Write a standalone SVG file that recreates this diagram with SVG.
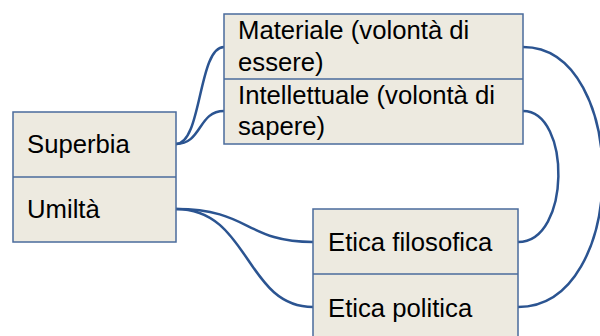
<svg xmlns="http://www.w3.org/2000/svg" width="600" height="336" viewBox="0 0 600 336">
<style>
.box{fill:#EDEAE0;stroke:#4A6B9C;stroke-width:1.5}
.div{stroke:#4A6B9C;stroke-width:1.5}
.t{font-family:"Liberation Sans",Arial,sans-serif;font-size:25.7px;fill:#000}
.c{fill:none;stroke:#2B5491;stroke-width:2.5}
</style>
<rect width="600" height="336" fill="#fff"/>
<g id="connectors">
<path class="c" d="M176,144 C202,144 198,47 224,47"/>
<path class="c" d="M176,144 C202,144 198,111 224,111"/>
<path class="c" d="M176,209 C250,209 245,242 313,242"/>
<path class="c" d="M176,209 C250,209 245,307 313,307"/>
<path class="c" d="M523,47 C630,47 630,307 518,307"/>
<path class="c" d="M523,111 C571,111 571,242 518,242"/>
</g>
<g id="left">
<rect class="box" x="13" y="112" width="163" height="130"/>
<line class="div" x1="13" y1="177" x2="176" y2="177"/>
<text class="t" x="27" y="153">Superbia</text>
<text class="t" x="27" y="218">Umiltà</text>
</g>
<g id="top">
<rect class="box" x="224" y="14" width="299" height="130"/>
<line class="div" x1="224" y1="79" x2="523" y2="79"/>
<text class="t" x="238" y="39">Materiale (volontà di</text>
<text class="t" x="238" y="71">essere)</text>
<text class="t" x="238" y="104">Intellettuale (volontà di</text>
<text class="t" x="238" y="135">sapere)</text>
</g>
<g id="bottom">
<rect class="box" x="313" y="209" width="205" height="140"/>
<line class="div" x1="313" y1="274" x2="518" y2="274"/>
<text class="t" x="328" y="251">Etica filosofica</text>
<text class="t" x="328" y="317">Etica politica</text>
</g>
</svg>
